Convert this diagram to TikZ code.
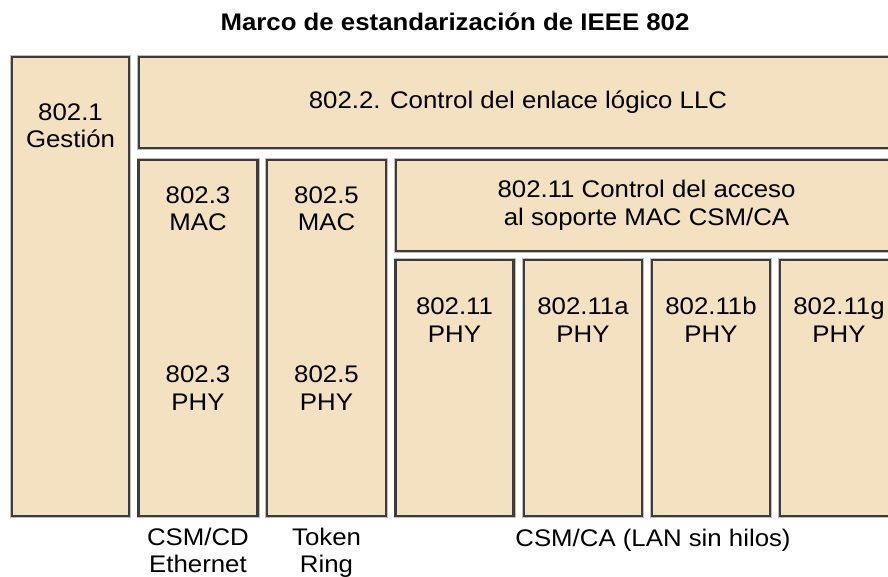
\documentclass[tikz,border=0pt]{standalone}
\usepackage{fontspec}
\setmainfont{Liberation Sans}[FakeStretch=1.075]
\usetikzlibrary{positioning}
\definecolor{wheat}{HTML}{F4E1C1}
\definecolor{edge}{HTML}{3C3C3C}

\begin{document}
\begin{tikzpicture}[
  x=1pt, y=-1pt,
  font=\fontsize{24}{27.5}\selectfont,
  layer/.style={draw=edge, fill=wheat, line width=2.2pt, inner sep=0pt, align=center,
      preaction={draw=black!25, line width=4pt}},
  tall/.style={layer, minimum width=119pt, minimum height=356pt},
  phy/.style={layer, minimum width=118pt, minimum height=256pt},
  lbl/.style={align=center, inner sep=0pt, anchor=base},
]
\useasboundingbox (0,0) rectangle (888,577);
\clip (0,0) rectangle (888,577);

\node[lbl, font=\bfseries\fontsize{24}{27}\selectfont] (title) at (455,31) {Marco de estandarización de IEEE 802};

% management column and LLC
\node[layer, minimum width=117pt, minimum height=459pt] (gest) at (70.5,286.5) {};
\node[lbl] (gestTxt) at (70.5,148) {802.1\\Gestión};
\node[layer, minimum width=758pt, minimum height=91pt] (llc) at (518,102.5) {802.2. Control del enlace lógico LLC};

% wired MACs
\node[tall] (eth) at (198,338) {};
\node[tall] (tok) at (326.5,338) {};
\node[lbl] (ethMac) at (198,231) {802.3\\MAC};
\node[lbl] (ethPhy) at (198,410) {802.3\\PHY};
\node[lbl] (tokMac) at (326.5,231) {802.5\\MAC};
\node[lbl] (tokPhy) at (326.5,410) {802.5\\PHY};

% wireless
\node[layer, minimum width=501pt, minimum height=91pt] (wmac) at (646.5,205.5)
   {802.11 Control del acceso\\al soporte MAC CSM/CA};
\node[phy] (phy) at (454.5,388) {};
\node[phy] (phyA) at (583,388) {};
\node[phy] (phyB) at (711,388) {};
\node[phy] (phyG) at (839,388) {};
\node[lbl] (phyTxt) at (454.5,342) {802.11\\PHY};
\node[lbl] (phyATxt) at (583,342) {802.11a\\PHY};
\node[lbl] (phyBTxt) at (711,342) {802.11b\\PHY};
\node[lbl] (phyGTxt) at (839,342) {802.11g\\PHY};

% captions under the columns
\node[lbl, font=\fontsize{24}{26.5}\selectfont] (ethCap) at (198,572) {CSM/CD\\Ethernet};
\node[lbl, font=\fontsize{24}{26.5}\selectfont] (tokCap) at (326.5,572) {Token\\Ring};
\node[lbl] (wCap) at (653,546) {CSM/CA (LAN sin hilos)};
\end{tikzpicture}
\end{document}
